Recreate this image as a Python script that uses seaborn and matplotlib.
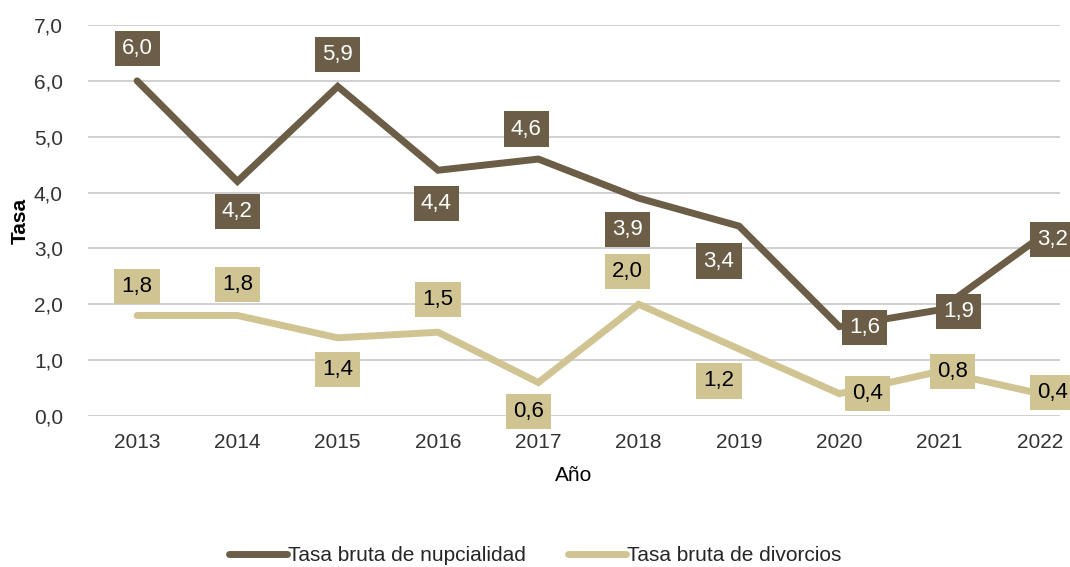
import pandas as pd
import matplotlib
matplotlib.use("Agg")
import matplotlib.pyplot as plt
import seaborn as sns

# data
years = [2013, 2014, 2015, 2016, 2017, 2018, 2019, 2020, 2021, 2022]
nupcialidad = [6.0, 4.2, 5.9, 4.4, 4.6, 3.9, 3.4, 1.6, 1.9, 3.2]
divorcios = [1.8, 1.8, 1.4, 1.5, 0.6, 2.0, 1.2, 0.4, 0.8, 0.4]
series_names = ["Tasa bruta de nupcialidad", "Tasa bruta de divorcios"]
y_ticks = [0, 1, 2, 3, 4, 5, 6, 7]

dark = "#6B5D46"
light = "#D1C493"

# label offsets in pixels (layout only)
nup_offsets = [(0, 32), (0, -30), (0, 32), (-2, -33), (-12, 30), (-11, -31),
               (-20, -35), (25, -1), (19, -2), (13, -2)]
div_offsets = [(0, 29), (0, 31), (0, -32), (0, 33), (-10, -29), (-11, 33),
               (-20, -32), (28, 0), (13, 0), (13, 1)]

df = pd.DataFrame({
    "pos": list(range(len(years))) * 2,
    "Tasa": nupcialidad + divorcios,
    "serie": [series_names[0]] * len(years) + [series_names[1]] * len(years),
})

sns.set_style("white")
plt.rcParams["font.family"] = ["Liberation Sans", "DejaVu Sans"]

fig = plt.figure(figsize=(10.7, 5.67), dpi=100)
ax = fig.add_axes([0.0822, 0.2663, 0.9085, 0.6896])

sns.lineplot(data=df, x="pos", y="Tasa", hue="serie", ax=ax,
             palette={series_names[0]: dark, series_names[1]: light},
             linewidth=5, legend=False)
for ln in ax.lines:
    ln.set_solid_capstyle("round")
    ln.set_solid_joinstyle("miter")

for vals, offs, fc, tc in [(nupcialidad, nup_offsets, dark, "white"),
                           (divorcios, div_offsets, light, "black")]:
    for i, (v, (dx, dy)) in enumerate(zip(vals, offs)):
        ax.annotate(f"{v:.1f}".replace(".", ","), (i, v),
                    xytext=(dx, dy), textcoords="offset pixels",
                    ha="center", va="center", fontsize=16, color=tc,
                    bbox=dict(boxstyle="square,pad=0.32", fc=fc, ec="none"),
                    zorder=5)

ax.set_ylim(0, 7)
ax.set_xlim(-0.49, 9.2)
ax.set_yticks(y_ticks)
ax.set_yticklabels([f"{t:.1f}".replace(".", ",") for t in y_ticks])
ax.set_xticks(range(len(years)))
ax.set_xticklabels([str(y) for y in years])
ax.tick_params(axis="both", labelsize=15, colors="#333333", length=0)
ax.tick_params(axis="y", pad=18)
ax.tick_params(axis="x", pad=12)
ax.yaxis.grid(True, color="#C8C8C8", linewidth=1.2)
ax.set_axisbelow(True)
for s in ax.spines.values():
    s.set_visible(False)

ax.set_xlabel("Año", fontsize=15, labelpad=10, color="black")
ax.set_ylabel("Tasa", fontsize=15, fontweight="bold", labelpad=3, color="black")

handles = [plt.Line2D([], [], color=dark, lw=5), plt.Line2D([], [], color=light, lw=5)]
fig.legend(handles, series_names, loc="center", bbox_to_anchor=(0.5, 0.02),
           ncol=2, frameon=False, fontsize=15, handlelength=2.8,
           handletextpad=0.05, columnspacing=2.0)

fig.savefig("out.png", dpi=100)
